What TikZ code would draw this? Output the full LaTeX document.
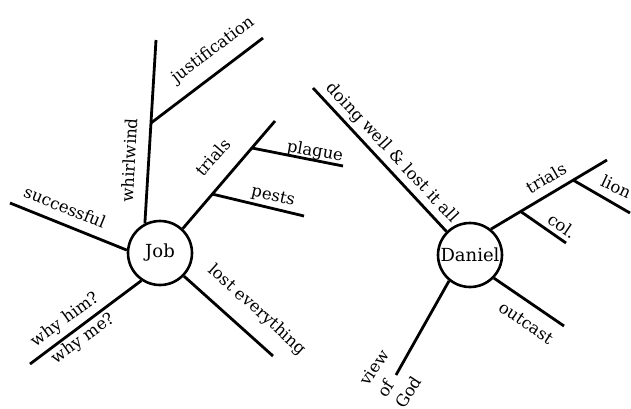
\documentclass[tikz,border=0pt]{standalone}
\usepackage{fontspec}
\setmainfont{DejaVu Serif}
\begin{document}
\begin{tikzpicture}[x=1pt,y=-1pt,
  hub/.style={circle,draw,line width=2.6pt,minimum size=64pt,inner sep=0pt,font=\fontsize{18}{21}\selectfont},
  branch/.style={line width=2.8pt},
  lbl/.style={inner sep=0pt,font=\fontsize{16.5}{19}\selectfont}]
\useasboundingbox (0,0) rectangle (631,408);
% Job
\node[hub] (job) at (160,253) {Job};
\coordinate (wtop) at (156,40);
\coordinate (jbase) at (151,123);
\coordinate (jtop) at (263,38);
\coordinate (ttop) at (275,121);
\coordinate (pbase) at (252,148);
\coordinate (pend) at (343,166);
\coordinate (sbase) at (212,194);
\coordinate (send) at (304,216);
\coordinate (succ) at (10,203);
\coordinate (why) at (30,364);
\coordinate (lost) at (273,356);
\draw[branch] (job.117) -- (wtop);
\draw[branch] (jbase) -- (jtop);
\draw[branch] (job.47) -- (ttop);
\draw[branch] (pbase) -- (pend);
\draw[branch] (sbase) -- (send);
\draw[branch] (job.175) -- (succ);
\draw[branch] (job.236) -- (why);
\draw[branch] (job.-44) -- (lost);
\node[lbl,rotate=37] (tjust) at (213,50) {justification};
\node[lbl,rotate=87] (twhirl) at (129,160) {whirlwind};
\node[lbl,rotate=49] (ttrials) at (213,157) {trials};
\node[lbl,rotate=-10] (tplague) at (315,152) {plague};
\node[lbl,rotate=-13] (tpests) at (273,197) {pests};
\node[lbl,rotate=-22] (tsucc) at (65,207) {successful};
\node[lbl,rotate=36] (thim) at (65,320) {why him?};
\node[lbl,rotate=36] (tme) at (83,339) {why me?};
\node[lbl,rotate=-42] (tlost) at (257,310) {lost everything};
% Daniel
\node[hub] (dan) at (470,255) {Daniel};
\coordinate (dwell) at (313,88);
\coordinate (dtr) at (607,160);
\coordinate (lbase) at (573,180);
\coordinate (lend) at (630,213);
\coordinate (cbase) at (520,211);
\coordinate (cend) at (566,243);
\coordinate (out) at (564,326);
\coordinate (view) at (396,375);
\draw[branch] (dan.135) -- (dwell);
\draw[branch] (dan.51) -- (dtr);
\draw[branch] (lbase) -- (lend);
\draw[branch] (cbase) -- (cend);
\draw[branch] (dan.-44) -- (out);
\draw[branch] (dan.231) -- (view);
\node[lbl,rotate=-47] (tdoing) at (392,153) {doing well \& lost it all};
\node[lbl,rotate=30] (tdtrials) at (546,178) {trials};
\node[lbl,rotate=-25,anchor=west] (tlion) at (602,180) {lion};
\node[lbl,rotate=-34] (tcol) at (562,226) {col.};
\node[lbl,rotate=-34] (tout) at (526,323) {outcast};
\node[lbl,rotate=57,align=left,font=\fontsize{16.5}{21}\selectfont] (tview) at (392,379) {view\\of\\God};
\end{tikzpicture}
\end{document}
